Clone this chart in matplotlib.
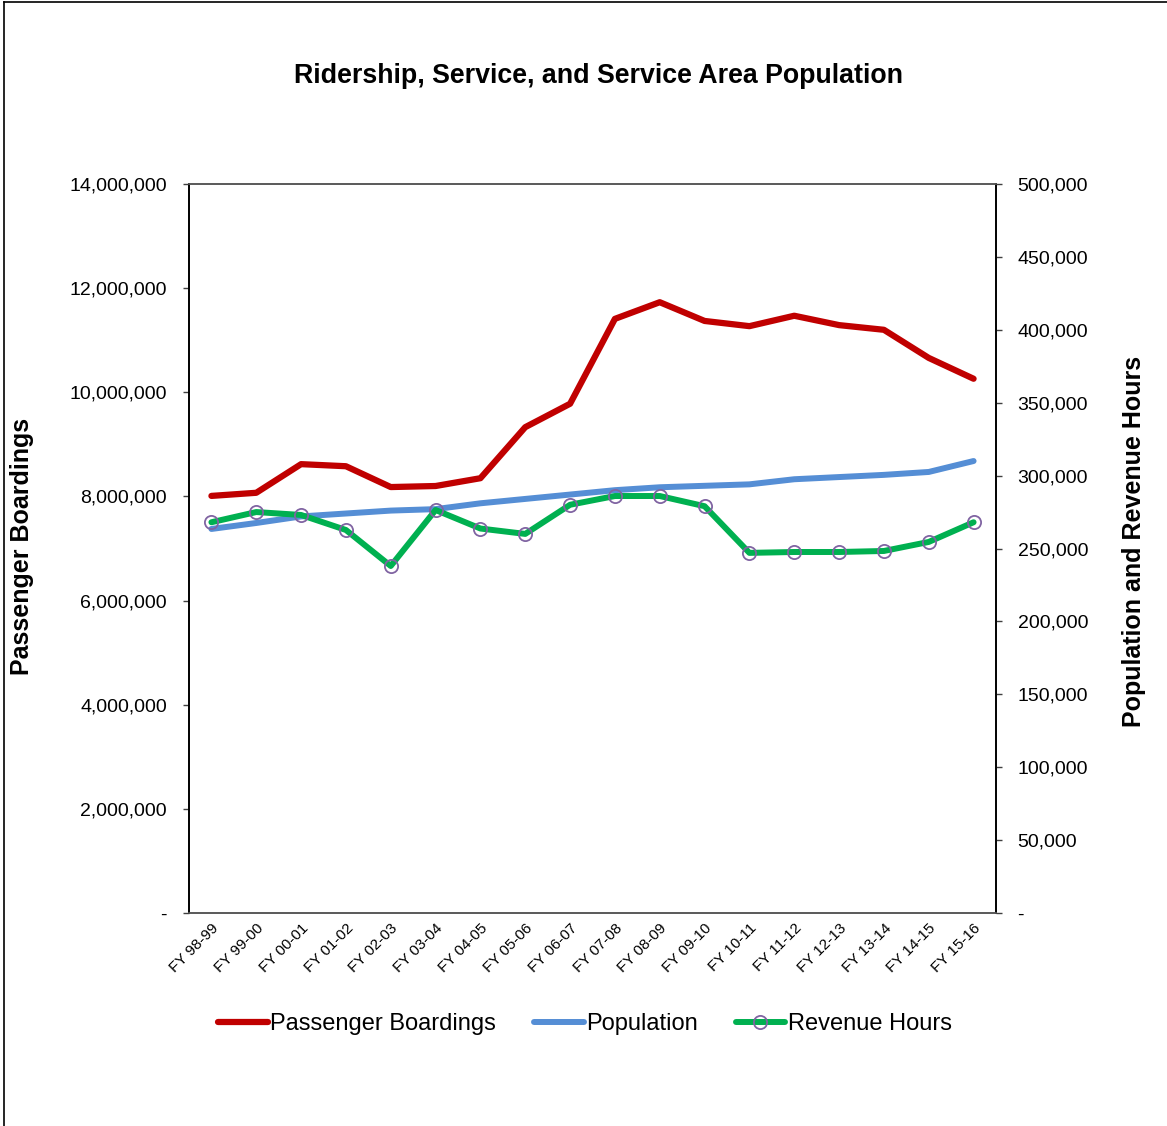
import matplotlib
matplotlib.use('Agg')
import matplotlib.pyplot as plt
from matplotlib.lines import Line2D
from matplotlib.ticker import FuncFormatter, MultipleLocator

plt.rcParams['font.family'] = ['Liberation Sans', 'DejaVu Sans']

# data
years = ['FY 98-99', 'FY 99-00', 'FY 00-01', 'FY 01-02', 'FY 02-03', 'FY 03-04',
         'FY 04-05', 'FY 05-06', 'FY 06-07', 'FY 07-08', 'FY 08-09', 'FY 09-10',
         'FY 10-11', 'FY 11-12', 'FY 12-13', 'FY 13-14', 'FY 14-15', 'FY 15-16']
boardings = [8010000, 8070000, 8620000, 8580000, 8180000, 8200000, 8350000, 9330000,
             9780000, 11410000, 11730000, 11370000, 11270000, 11470000, 11290000,
             11200000, 10660000, 10260000]
population = [263400, 267500, 272000, 274000, 276000, 277000, 281000, 284000, 287000,
              290000, 292000, 293000, 294000, 297500, 299000, 300500, 302500, 310000]
rev_hours = [268000, 275000, 273000, 262700, 238000, 276400, 263700, 260000, 280000,
             286000, 286000, 279000, 247000, 247600, 247600, 248300, 254500, 268000]

W, H = 1167, 1126
fig = plt.figure(figsize=(W / 100, H / 100), dpi=100)
ax = fig.add_axes([189 / W, 1 - 913 / H, (996 - 189) / W, (913 - 184) / H])
ax2 = ax.twinx()

x = list(range(len(years)))

def fmt(v, pos):
    if abs(v) < 1e-6:
        return '-'
    return '{:,.0f}'.format(v)

# primary axis: boardings
l1, = ax.plot(x, boardings, color='#C00000', lw=4.5, solid_capstyle='round',
              solid_joinstyle='round', label='Passenger Boardings')
ax.set_xlim(-0.5, len(years) - 0.5)
ax.set_ylim(0, 14000000)
ax.yaxis.set_major_locator(MultipleLocator(2000000))
ax.yaxis.set_major_formatter(FuncFormatter(fmt))

# secondary axis: population and revenue hours
l2, = ax2.plot(x, population, color='#558ED5', lw=4.3, solid_capstyle='round',
               solid_joinstyle='round', label='Population')
l3, = ax2.plot(x, rev_hours, color='#00B050', lw=4.3, solid_capstyle='round',
               solid_joinstyle='round', marker='o', markersize=9.5,
               markerfacecolor='none', markeredgecolor='#8064A2',
               markeredgewidth=1.3, label='Revenue Hours')
ax2.set_ylim(0, 500000)
ax2.yaxis.set_major_locator(MultipleLocator(50000))
ax2.yaxis.set_major_formatter(FuncFormatter(fmt))

ax.set_xticks(x)
ax.set_xticklabels(years, rotation=45, ha='right', rotation_mode='anchor', fontsize=11)
ax.tick_params(axis='x', length=0, pad=6)
ax.tick_params(axis='y', direction='out', length=4, width=1, labelsize=14, pad=12,
               color='#404040')
ax2.tick_params(axis='y', direction='out', length=4.5, width=1, labelsize=14, pad=11,
                color='#404040')

for a in (ax, ax2):
    a.spines['left'].set_color('black')
    a.spines['right'].set_color('black')
    a.spines['top'].set_color('#595959')
    a.spines['bottom'].set_color('#595959')
    for s in a.spines.values():
        s.set_linewidth(1.2)

# titles and axis labels
fig.text(599 / W, 1 - 76 / H, 'Ridership, Service, and Service Area Population',
         ha='center', va='center', fontsize=19.3, fontweight='bold')
fig.text(22 / W, 1 - 546 / H, 'Passenger Boardings', rotation=90, ha='center',
         va='center', fontsize=18, fontweight='bold')
fig.text(1134 / W, 1 - 541 / H, 'Population and Revenue Hours', rotation=90,
         ha='center', va='center', fontsize=18, fontweight='bold')

fig.legend(handles=[l1, l2, l3], loc='center', bbox_to_anchor=(585 / W, 1 - 1024 / H),
           ncol=3, frameon=False, fontsize=17, handlelength=2.1, handletextpad=0.1,
           columnspacing=1.6)

# outer chart frame (only left and top edges visible in the crop)
fig.add_artist(Line2D([4 / W, 4 / W], [0, 1 - 2 / H], color='black', lw=1.2))
fig.add_artist(Line2D([4 / W, 1], [1 - 2 / H, 1 - 2 / H], color='black', lw=1.2))

fig.savefig('out.png', dpi=100)
